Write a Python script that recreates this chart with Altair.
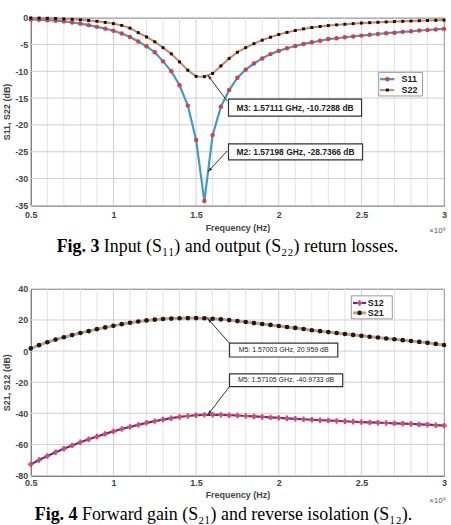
import math
import altair as alt
import pandas as pd

# ---------------- data ----------------
freq = [0.50, 0.55, 0.60, 0.65, 0.70, 0.75, 0.80, 0.85, 0.90, 0.95,
        1.00, 1.05, 1.10, 1.15, 1.20, 1.25, 1.30, 1.35, 1.40, 1.45,
        1.50, 1.55, 1.60, 1.65, 1.70, 1.75, 1.80, 1.85, 1.90, 1.95,
        2.00, 2.05, 2.10, 2.15, 2.20, 2.25, 2.30, 2.35, 2.40, 2.45,
        2.50, 2.55, 2.60, 2.65, 2.70, 2.75, 2.80, 2.85, 2.90, 2.95, 3.00]

s11 = [-0.35, -0.40, -0.47, -0.57, -0.70, -0.90, -1.12, -1.40, -1.72, -2.05,
       -2.45, -2.95, -3.60, -4.45, -5.35, -6.45, -8.15, -10.0, -12.6, -16.4,
       -22.8, -34.2, -21.9, -16.6, -13.5, -11.2, -9.70, -8.55, -7.60, -6.80,
       -6.20, -5.70, -5.30, -4.90, -4.60, -4.30, -4.00, -3.85, -3.65, -3.50,
       -3.35, -3.20, -3.05, -2.90, -2.80, -2.65, -2.55, -2.40, -2.30, -2.20, -2.10]

s22 = [-0.05, -0.08, -0.12, -0.17, -0.23, -0.31, -0.41, -0.53, -0.68, -0.88,
       -1.12, -1.45, -1.95, -2.80, -3.60, -4.50, -5.60, -6.75, -8.25, -9.80,
       -10.95, -11.0, -10.4, -9.00, -7.60, -6.45, -5.60, -4.85, -4.20, -3.65,
       -3.15, -2.75, -2.40, -2.10, -1.85, -1.65, -1.48, -1.35, -1.23, -1.12,
       -1.02, -0.94, -0.87, -0.80, -0.74, -0.68, -0.63, -0.58, -0.54, -0.50, -0.46]

s21 = [1.7, 3.8, 5.7, 7.4, 8.9, 10.3, 11.6, 12.8, 14.1, 15.2,
       16.2, 17.3, 18.2, 19.0, 19.7, 20.2, 20.6, 20.9, 21.1, 21.2,
       21.2, 21.1, 20.8, 20.4, 19.9, 19.3, 18.7, 18.0, 17.4, 16.8,
       16.1, 15.5, 14.9, 14.2, 13.4, 12.8, 12.2, 11.6, 11.0, 10.4,
       9.8, 9.2, 8.7, 8.1, 7.6, 7.0, 6.5, 5.9, 5.3, 4.6, 3.9]

s12 = [-72.8, -70.0, -67.4, -65.0, -62.7, -60.6, -58.6, -56.7, -54.9, -53.2,
       -51.6, -50.1, -48.7, -47.4, -46.1, -45.0, -44.0, -43.1, -42.3, -41.7,
       -41.2, -41.0, -40.9, -41.0, -41.2, -41.4, -41.7, -42.0, -42.3, -42.6,
       -42.9, -43.2, -43.5, -43.8, -44.1, -44.4, -44.6, -44.9, -45.1, -45.4,
       -45.6, -45.8, -46.0, -46.2, -46.4, -46.6, -46.8, -47.1, -47.3, -47.6, -47.9]

x_major = [0.5, 1.0, 1.5, 2.0, 2.5, 3.0]
x_minor = [0.6, 0.7, 0.8, 0.9, 1.1, 1.2, 1.3, 1.4, 1.6, 1.7, 1.8, 1.9,
           2.1, 2.2, 2.3, 2.4, 2.6, 2.7, 2.8, 2.9]
y_ticks_top = [-35, -30, -25, -20, -15, -10, -5, 0]
y_ticks_bot = [-80, -60, -40, -20, 0, 20, 40]

# marker annotations (data coordinates)
top_box_x = [1.696, 1.696]
top_box_x2 = [2.501, 2.507]
top_box_y = [-15.2, -23.55]
top_box_y2 = [-18.35, -26.5]
top_box_text = ["M3: 1.57111 GHz, -10.7288 dB", "M2: 1.57198 GHz, -28.7366 dB"]
top_arrow_from = [(1.688, -15.55), (1.688, -24.85)]
top_arrow_to = [(1.5711, -10.73), (1.5720, -28.74)]

bot_box_x = [1.702, 1.702]
bot_box_x2 = [2.357, 2.387]
bot_box_y = [5.06, -14.6]
bot_box_y2 = [-3.8, -22.8]
bot_box_text = ["M5: 1.57003 GHz, 20.959 dB", "M5: 1.57105 GHz, -40.9733 dB"]
bot_arrow_from = [(1.702, 5.06), (1.702, -22.8)]
bot_arrow_to = [(1.5700, 20.96), (1.5710, -40.97)]

# legends (data coordinates)
top_leg_box = (2.605, 2.870, -10.2, -14.6)
top_leg_rows = [-11.47, -13.5]
top_leg_line = (2.613, 2.700)
top_leg_mark = 2.657
top_leg_text_x = 2.743
top_leg_names = ["S11", "S22"]

bot_leg_box = (2.439, 2.687, 35.5, 20.7)
bot_leg_rows = [30.9, 24.5]
bot_leg_line = (2.449, 2.529)
bot_leg_mark = 2.489
bot_leg_text_x = 2.539
bot_leg_names = ["S12", "S21"]

# ---------------- layout / style ----------------
W = 416
H1 = 189
H2 = 188
C11_LINE, C11_MARK = "#3d9bd0", "#e23a3f"
C22_LINE, C22_MARK = "#d5825a", "#111111"
C12_LINE, C12_MARK = "#3b3bb0", "#e8415e"
C21_LINE, C21_MARK = "#cf9e82", "#1a1a1a"
AX = "#444444"
GRID = "#cfcfcf"
GRID_MINOR = "#e3e3e3"


def x_enc(label_pad, title_pad):
    return alt.X("f:Q", scale=alt.Scale(domain=[0.5, 3.0], nice=False, zero=False),
                 axis=alt.Axis(values=x_major, title="Frequency (Hz)",
                               labelExpr="format(datum.value, '~g')",
                               grid=False, ticks=True, tickSize=0,
                               labelPadding=label_pad, titlePadding=title_pad,
                               labelFlush=False, labelOverlap=False))


def y_enc(dom, vals, title):
    return alt.Y("v:Q", scale=alt.Scale(domain=dom, nice=False, zero=False),
                 axis=alt.Axis(values=vals, title=title, grid=False,
                               ticks=True, tickSize=0, labelPadding=3, titlePadding=3,
                               labelOverlap=False, labelFlush=False,
                               labelExpr="replace(datum.label, '\u2212', '-')"))


def angle(p0, p1, ppx, ppy):
    dx = (p1[0] - p0[0]) * ppx
    dy = -(p1[1] - p0[1]) * ppy
    return math.degrees(math.atan2(dx, -dy)) % 360


def panel(series, X, Y, H, ydom, yvals, boxes, arrows_from, arrows_to, box_font, leg, cap_bold,
          cap_rest, cap_dx_bold, cap_dy, xunit_dy):
    layers = []
    # grid drawn as rules spanning the whole plot, from the tick lists
    gmin = pd.DataFrame({"f": x_minor, "v": [ydom[0]] * len(x_minor), "v2": [ydom[1]] * len(x_minor)})
    layers.append(alt.Chart(gmin).mark_rule(color=GRID_MINOR, strokeWidth=1).encode(
        x=X, y=Y, y2="v2:Q"))
    gmaj = pd.DataFrame({"f": x_major, "v": [ydom[0]] * len(x_major), "v2": [ydom[1]] * len(x_major)})
    layers.append(alt.Chart(gmaj).mark_rule(color=GRID, strokeWidth=1).encode(
        x=X, y=Y, y2="v2:Q"))
    gy = pd.DataFrame({"v": yvals, "f": [0.5] * len(yvals), "f2": [3.0] * len(yvals)})
    layers.append(alt.Chart(gy).mark_rule(color=GRID, strokeWidth=1).encode(
        x=X, x2="f2:Q", y=Y))
    for vals, lc, mc, shape, msize, lw in series:
        d = pd.DataFrame({"f": freq, "v": vals})
        layers.append(alt.Chart(d).mark_line(color=lc, strokeWidth=lw).encode(x=X, y=Y))
    for vals, lc, mc, shape, msize, lw in series:
        d = pd.DataFrame({"f": freq, "v": vals})
        layers.append(alt.Chart(d).mark_point(shape=shape, filled=True, color=mc, size=msize,
                                              opacity=1).encode(x=X, y=Y))
    # arrows
    ppx = W / 2.5
    ppy = H / (ydom[1] - ydom[0])
    ad = pd.DataFrame({"f": [a[0] for a in arrows_from], "v": [a[1] for a in arrows_from],
                       "f2": [a[0] for a in arrows_to], "v2": [a[1] for a in arrows_to]})
    layers.append(alt.Chart(ad).mark_rule(color="#333333", strokeWidth=1).encode(
        x=X, y=Y, x2="f2:Q", y2="v2:Q"))
    hd = pd.DataFrame({"f": [a[0] for a in arrows_to], "v": [a[1] for a in arrows_to],
                       "a": [angle(p0, p1, ppx, ppy) for p0, p1 in zip(arrows_from, arrows_to)]})
    layers.append(alt.Chart(hd).mark_point(shape="M0,0L-0.55,1.5L0.55,1.5Z", filled=True,
                                           color="#333333", size=36, opacity=1).encode(
        x=X, y=Y, angle=alt.Angle("a:Q", scale=None)))
    # boxes
    bx, bx2, by, by2, bt = boxes
    bd = pd.DataFrame({"f": bx, "f2": bx2, "v": by, "v2": by2})
    layers.append(alt.Chart(bd).mark_rect(fill="white", stroke="#333333", strokeWidth=1.2).encode(
        x=X, y=Y, x2="f2:Q", y2="v2:Q"))
    btd = pd.DataFrame({"f": [(a + b) / 2 for a, b in zip(bx, bx2)],
                        "v": [(a + b) / 2 for a, b in zip(by, by2)], "t": bt})
    fsz, fw = box_font
    layers.append(alt.Chart(btd).mark_text(font="Liberation Sans", fontSize=fsz, fontWeight=fw,
                                           color="#222222").encode(x=X, y=Y, text="t:N"))
    # legend
    (lb, rows, lline, lmark, ltx, names, s_) = leg
    lbd = pd.DataFrame({"f": [lb[0]], "f2": [lb[1]], "v": [lb[2]], "v2": [lb[3]]})
    layers.append(alt.Chart(lbd).mark_rect(fill="white", stroke="#9a9a9a", strokeWidth=1).encode(
        x=X, y=Y, x2="f2:Q", y2="v2:Q"))
    for r, nm, (vals, lc, mc, shape, msize, lw) in zip(rows, names, s_):
        ld = pd.DataFrame({"f": [lline[0]], "f2": [lline[1]], "v": [r]})
        layers.append(alt.Chart(ld).mark_rule(color=lc, strokeWidth=lw).encode(
            x=X, y=Y, x2="f2:Q"))
        md = pd.DataFrame({"f": [lmark], "v": [r]})
        layers.append(alt.Chart(md).mark_point(shape=shape, filled=True, color=mc, size=msize,
                                               opacity=1).encode(x=X, y=Y))
        td = pd.DataFrame({"f": [ltx], "v": [r], "t": [nm]})
        layers.append(alt.Chart(td).mark_text(font="Liberation Sans", fontSize=9, fontWeight="bold",
                                              color="#222222", align="left").encode(
            x=X, y=Y, text="t:N"))
    # x10^9
    layers.append(alt.Chart(pd.DataFrame({"t": ["\u00d710\u2079"]})).mark_text(
        font="Liberation Sans", fontSize=8, color="#555555", align="right").encode(
        x=alt.value(W + 2), y=alt.value(H + xunit_dy), text="t:N"))
    # caption
    layers.append(alt.Chart(pd.DataFrame({"t": [cap_bold]})).mark_text(
        font="Liberation Serif", fontSize=18, fontWeight="bold", color="#000000", align="right").encode(
        x=alt.value(cap_dx_bold), y=alt.value(H + cap_dy), text="t:N"))
    layers.append(alt.Chart(pd.DataFrame({"t": [cap_rest]})).mark_text(
        font="Liberation Serif", fontSize=18, color="#000000", align="left").encode(
        x=alt.value(cap_dx_bold + 4.5), y=alt.value(H + cap_dy), text="t:N"))
    return alt.layer(*layers).properties(width=W, height=H)


top_series = [
    (s11, C11_LINE, C11_MARK, "circle", 20, 2.2),
    (s22, C22_LINE, C22_MARK, "square", 9, 2.0),
]
bot_series = [
    (s12, C12_LINE, C12_MARK, "cross", 30, 2.2),
    (s21, C21_LINE, C21_MARK, "circle", 22, 3.0),
]

top = panel(top_series, x_enc(5, 4), y_enc([-35, 0], y_ticks_top, "S11, S22 (dB)"), H1, [-35, 0],
            y_ticks_top,
            (top_box_x, top_box_x2, top_box_y, top_box_y2, top_box_text),
            top_arrow_from, top_arrow_to, (8.5, "bold"),
            (top_leg_box, top_leg_rows, top_leg_line, top_leg_mark, top_leg_text_x, top_leg_names,
             top_series),
            "Fig. 3", "Input (S\u2081\u2081) and output (S\u2082\u2082) return losses.", 69, 41.7, 26)

bot = panel(bot_series, x_enc(3, 3), y_enc([-80, 40], y_ticks_bot, "S21, S12 (dB)"), H2, [-80, 40],
            y_ticks_bot,
            (bot_box_x, bot_box_x2, bot_box_y, bot_box_y2, bot_box_text),
            bot_arrow_from, bot_arrow_to, (7, "normal"),
            (bot_leg_box, bot_leg_rows, bot_leg_line, bot_leg_mark, bot_leg_text_x, bot_leg_names,
             bot_series),
            "Fig. 4", "Forward gain (S\u2082\u2081) and reverse isolation (S\u2081\u2082).", 47, 39.7, 26)

chart = alt.vconcat(top, bot, spacing=84, bounds="flush").properties(
    padding={"left": 2, "top": 11, "right": 0, "bottom": 0},
    background="white",
).configure_view(stroke="#777777", strokeWidth=1).configure_axis(
    labelFont="Liberation Sans", labelFontWeight="bold", labelFontSize=9, labelColor=AX,
    titleFont="Liberation Sans", titleFontWeight="bold", titleFontSize=9, titleColor=AX,
    domainColor="#555555", domainWidth=1, tickColor="#555555", labelOverlap=False,
)

chart.save("out.html", embed_options={"renderer": "svg", "actions": False})
